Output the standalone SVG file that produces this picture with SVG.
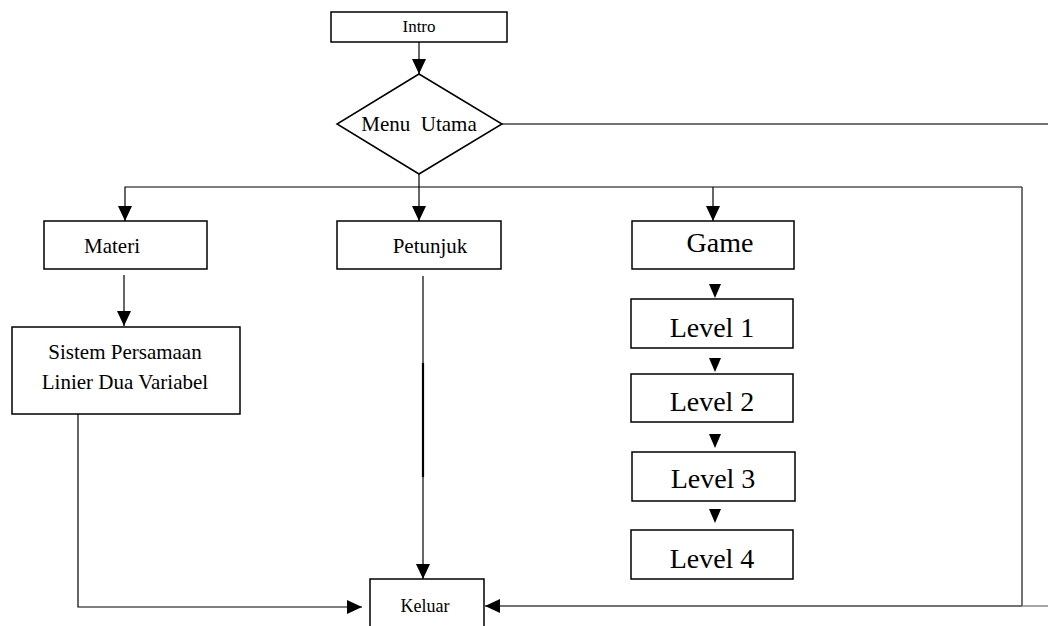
<svg xmlns="http://www.w3.org/2000/svg" width="1048" height="626" viewBox="0 0 1048 626">
<style>
.box{fill:#fff;stroke:#000;stroke-width:1.5}
.ln{fill:none;stroke:#000;stroke-width:1.2}
.gl{fill:none;stroke:#444;stroke-width:1.5}
.t{font-family:"Liberation Serif","Times New Roman",serif;fill:#000;text-anchor:middle}
.tri{fill:#000}
</style>
<defs>
<marker id="ah" markerUnits="userSpaceOnUse" markerWidth="16" markerHeight="14" refX="15" refY="7" orient="auto" viewBox="0 0 16 14">
<path d="M0,0 L15,7 L0,14 z" fill="#000"/>
</marker>
</defs>
<rect width="1048" height="626" fill="#fff"/>
<g id="connectors">
<line class="ln" x1="419" y1="42" x2="419" y2="74" marker-end="url(#ah)"/>
<line class="gl" x1="502" y1="124" x2="1048" y2="124"/>
<polyline class="ln" points="1022,187 125,187 125,221" marker-end="url(#ah)"/>
<line class="gl" x1="1022" y1="187" x2="1022" y2="606"/>
<line class="ln" x1="419" y1="174" x2="419" y2="221" marker-end="url(#ah)"/>
<line class="ln" x1="713" y1="187" x2="713" y2="221" marker-end="url(#ah)"/>
<line class="ln" x1="124" y1="275" x2="124" y2="326" marker-end="url(#ah)"/>
<line class="ln" x1="423" y1="276" x2="423" y2="363" stroke="#555"/>
<line x1="423" y1="363" x2="423" y2="477" stroke="#000" stroke-width="2.2"/>
<line class="ln" x1="423" y1="477" x2="423" y2="579" stroke="#555" marker-end="url(#ah)"/>
<polyline class="ln" points="78,414 78,607 362,607" stroke="#333" marker-end="url(#ah)"/>
<line x1="1048" y1="606" x2="1022" y2="606" stroke="#888" stroke-width="1.5"/>
<line class="gl" x1="1022" y1="606" x2="485" y2="606" marker-end="url(#ah)"/>
<path class="tri" d="M709,284 L721,284 L715,298 z"/>
<path class="tri" d="M709,358 L721,358 L715,372 z"/>
<path class="tri" d="M709,434 L721,434 L715,448 z"/>
<path class="tri" d="M709,509 L721,509 L715,523 z"/>
</g>
<g id="intro">
<rect class="box" x="331" y="12" width="176" height="30"/>
<text class="t" x="419" y="32" font-size="17">Intro</text>
</g>
<g id="menu-utama">
<polygon class="box" points="419,74 502,124 419,174 337,124"/>
<text class="t" x="419" y="131" font-size="21" xml:space="preserve">Menu  Utama</text>
</g>
<g id="materi">
<rect class="box" x="44" y="221" width="163" height="48"/>
<text class="t" x="112" y="253" font-size="21">Materi</text>
</g>
<g id="sistem">
<rect class="box" x="12" y="327" width="228" height="87"/>
<text class="t" x="125" y="359" font-size="21">Sistem Persamaan</text>
<text class="t" x="125" y="389" font-size="21">Linier Dua Variabel</text>
</g>
<g id="petunjuk">
<rect class="box" x="337" y="221" width="164" height="48"/>
<text class="t" x="430" y="253" font-size="21">Petunjuk</text>
</g>
<g id="game">
<rect class="box" x="632" y="221" width="162" height="48"/>
<text class="t" x="720" y="252" font-size="28">Game</text>
</g>
<g id="level1">
<rect class="box" x="631" y="299" width="162" height="49"/>
<text class="t" x="712" y="337" font-size="28">Level 1</text>
</g>
<g id="level2">
<rect class="box" x="631" y="374" width="162" height="48"/>
<text class="t" x="712" y="411" font-size="28">Level 2</text>
</g>
<g id="level3">
<rect class="box" x="632" y="452" width="163" height="49"/>
<text class="t" x="713" y="488" font-size="28">Level 3</text>
</g>
<g id="level4">
<rect class="box" x="631" y="530" width="162" height="49"/>
<text class="t" x="712" y="568" font-size="28">Level 4</text>
</g>
<g id="keluar">
<rect class="box" x="370" y="579" width="114" height="60"/>
<text class="t" x="425" y="612" font-size="18">Keluar</text>
</g>
</svg>
